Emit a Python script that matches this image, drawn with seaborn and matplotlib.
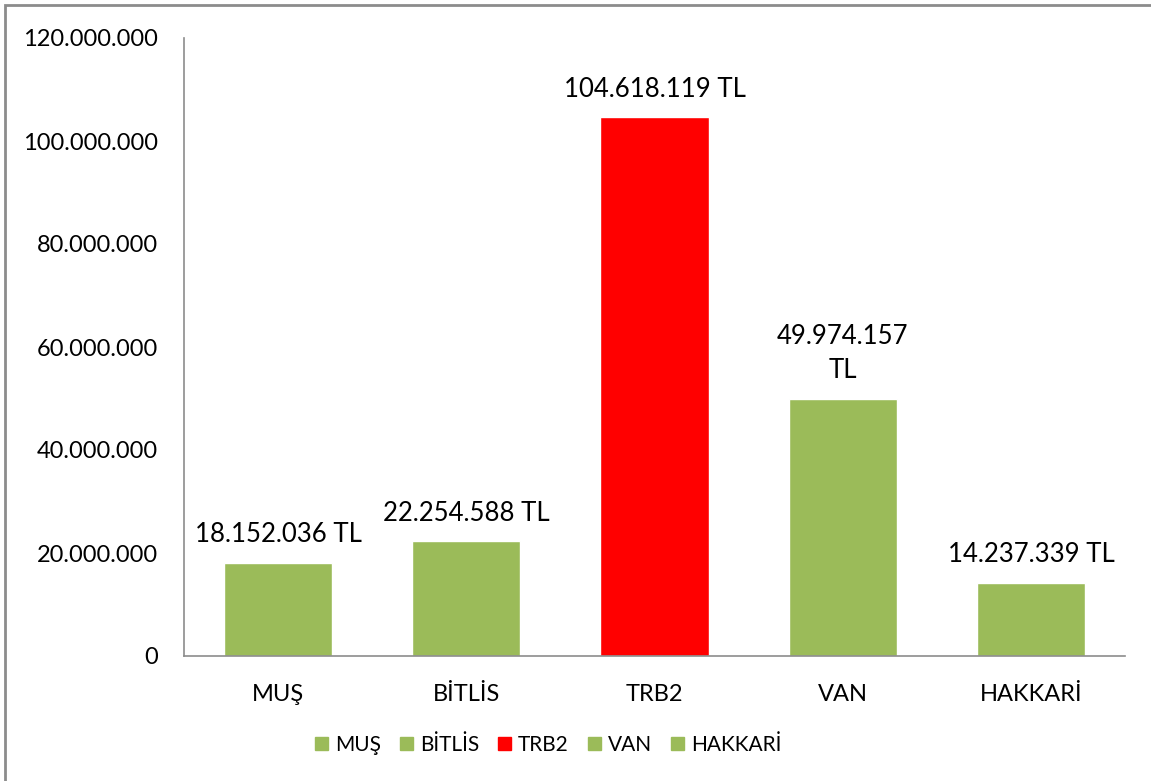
import matplotlib
matplotlib.use("Agg")
import matplotlib.pyplot as plt
import matplotlib.patches as mpatches
import matplotlib.ticker as mticker
import seaborn as sns
import pandas as pd

# data
regions = ["MUŞ", "BİTLİS", "TRB2", "VAN", "HAKKARİ"]
values = [18152036, 22254588, 104618119, 49974157, 14237339]
labels = ["18.152.036 TL", "22.254.588 TL", "104.618.119 TL", "49.974.157\nTL", "14.237.339 TL"]
colors = ["#9BBB59", "#9BBB59", "#FF0000", "#9BBB59", "#9BBB59"]

df = pd.DataFrame({"region": regions, "value": values})

sns.set_style("white")
plt.rcParams["font.family"] = ["Lato", "DejaVu Sans"]
plt.rcParams["text.color"] = "black"

fig = plt.figure(figsize=(11.51, 7.81), dpi=100)
ax = fig.add_axes([184 / 1151, 125 / 781, (1125 - 184) / 1151, (656 - 38) / 781])

sns.barplot(data=df, x="region", y="value", hue="region", palette=colors,
            order=regions, hue_order=regions, width=0.575, dodge=False,
            legend=False, ax=ax, saturation=1)

ax.set_ylim(0, 120000000)
ax.set_yticks(range(0, 120000001, 20000000))
ax.yaxis.set_major_formatter(mticker.FuncFormatter(lambda v, p: f"{int(v):,}".replace(",", ".")))
ax.tick_params(axis="both", length=0, labelsize=17, colors="black", labelcolor="black")
ax.tick_params(axis="y", pad=19)
ax.tick_params(axis="x", pad=20)
ax.set_xlabel("")
ax.set_ylabel("")

for s in ["top", "right"]:
    ax.spines[s].set_visible(False)
for s in ["left", "bottom"]:
    ax.spines[s].set_color("#8c8c8c")
    ax.spines[s].set_linewidth(1.2)

# data labels
for i, (v, lab) in enumerate(zip(values, labels)):
    ax.annotate(lab, (i, v), xytext=(0, 11), textcoords="offset points",
                ha="center", va="bottom", fontsize=18.5, linespacing=1.45,
                color="black")

# legend
handles = [mpatches.Patch(color=c, label=r) for r, c in zip(regions, colors)]
fig.legend(handles=handles, loc="center", bbox_to_anchor=(548 / 1151, 1 - 745 / 781),
           ncol=5, frameon=False, fontsize=15, handlelength=0.62, handleheight=0.62,
           handletextpad=0.35, columnspacing=0.9, labelcolor="black")

# outer border
fig.patches.append(mpatches.Rectangle((5 / 1151, -0.05), 1.2, 1 - 5 / 781 + 0.05,
                                      transform=fig.transFigure, fill=False,
                                      edgecolor="#8c8c8c", linewidth=2))

fig.savefig("out.png", dpi=100)
